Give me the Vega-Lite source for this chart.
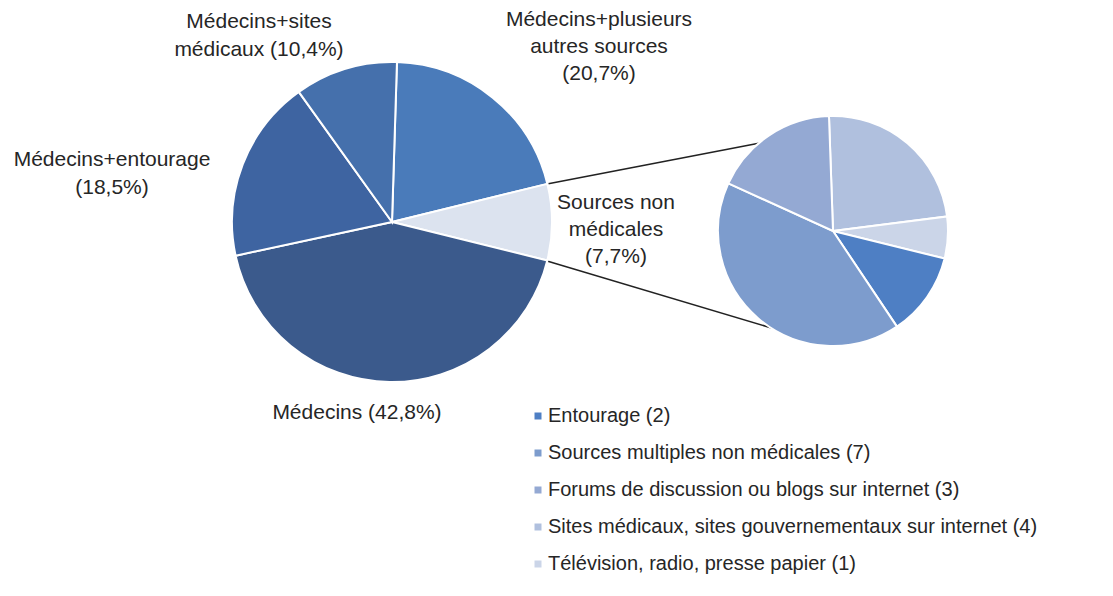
{
  "$schema": "https://vega.github.io/schema/vega-lite/v6.json",
  "width": 1113,
  "height": 596,
  "padding": 0,
  "autosize": {"type": "fit", "contains": "padding"},
  "background": "#ffffff",
  "config": {"view": {"stroke": null}, "font": "Liberation Sans"},
  "datasets": {
    "main": [
      {"category": "Médecins+plusieurs autres sources", "value": 20.7},
      {"category": "Sources non médicales", "value": 7.7},
      {"category": "Médecins", "value": 42.8},
      {"category": "Médecins+entourage", "value": 18.5},
      {"category": "Médecins+sites médicaux", "value": 10.4}
    ],
    "detail": [
      {"category": "Sites médicaux, sites gouvernementaux sur internet (4)", "value": 4},
      {"category": "Télévision, radio, presse papier (1)", "value": 1},
      {"category": "Entourage (2)", "value": 2},
      {"category": "Sources multiples non médicales (7)", "value": 7},
      {"category": "Forums de discussion ou blogs sur internet (3)", "value": 3}
    ]
  },
  "resolve": {"scale": {"theta": "independent", "color": "independent"}},
  "layer": [
    {
      "data": {"values": [{}]},
      "mark": {"type": "rule", "color": "#222222", "strokeWidth": 1.5},
      "encoding": {
        "x": {"datum": 547, "type": "quantitative", "scale": {"domain": [0, 1113], "nice": false, "zero": false}, "axis": null},
        "y": {"datum": 184, "type": "quantitative", "scale": {"domain": [0, 596], "nice": false, "zero": false, "reverse": true}, "axis": null},
        "x2": {"datum": 760},
        "y2": {"datum": 143}
      }
    },
    {
      "data": {"values": [{}]},
      "mark": {"type": "rule", "color": "#222222", "strokeWidth": 1.5},
      "encoding": {
        "x": {"datum": 547, "type": "quantitative"},
        "y": {"datum": 261, "type": "quantitative"},
        "x2": {"datum": 785},
        "y2": {"datum": 332}
      }
    },
    {
      "data": {"name": "main"},
      "transform": [{"window": [{"op": "row_number", "as": "rank"}]}],
      "mark": {"type": "arc", "outerRadius": 160, "stroke": "#ffffff", "strokeWidth": 2},
      "encoding": {
        "x": {"datum": 392, "type": "quantitative"},
        "y": {"datum": 222, "type": "quantitative"},
        "theta": {"field": "value", "type": "quantitative", "stack": true, "scale": {"range": [0.031, 6.3142]}},
        "order": {"field": "rank", "type": "quantitative"},
        "color": {
          "field": "category", "type": "nominal", "legend": null,
          "scale": {
            "domain": ["Médecins", "Médecins+entourage", "Médecins+sites médicaux", "Médecins+plusieurs autres sources", "Sources non médicales"],
            "range": ["#3b5a8c", "#3e64a1", "#4570ac", "#4a7bba", "#dce3ef"]
          }
        }
      }
    },
    {
      "data": {"name": "detail"},
      "transform": [{"window": [{"op": "row_number", "as": "rank"}]}],
      "mark": {"type": "arc", "outerRadius": 115, "stroke": "#ffffff", "strokeWidth": 2},
      "encoding": {
        "x": {"datum": 833, "type": "quantitative"},
        "y": {"datum": 231, "type": "quantitative"},
        "theta": {"field": "value", "type": "quantitative", "stack": true, "scale": {"range": [-0.035, 6.2482]}},
        "order": {"field": "rank", "type": "quantitative"},
        "color": {
          "field": "category", "type": "nominal",
          "scale": {
            "domain": ["Entourage (2)", "Sources multiples non médicales (7)", "Forums de discussion ou blogs sur internet (3)", "Sites médicaux, sites gouvernementaux sur internet (4)", "Télévision, radio, presse papier (1)"],
            "range": ["#4e7fc4", "#7d9ccd", "#94a9d3", "#b0c0de", "#cbd5e8"]
          },
          "legend": {
            "title": null, "orient": "none", "legendX": 528, "legendY": 406,
            "symbolType": "square", "symbolSize": 49, "symbolStrokeWidth": 0,
            "labelFont": "Liberation Sans", "labelFontSize": 20, "labelColor": "#262626",
            "labelOffset": 0, "rowPadding": 17, "labelLimit": 700
          }
        }
      }
    },
    {
      "data": {"values": [{}]},
      "mark": {"type": "text", "text": ["Médecins+sites", "médicaux (10,4%)"], "fontSize": 21, "lineHeight": 28, "align": "center", "baseline": "middle", "color": "#262626"},
      "encoding": {"x": {"datum": 259, "type": "quantitative"}, "y": {"datum": 22, "type": "quantitative"}}
    },
    {
      "data": {"values": [{}]},
      "mark": {"type": "text", "text": ["Médecins+plusieurs", "autres sources", "(20,7%)"], "fontSize": 21, "lineHeight": 27, "align": "center", "baseline": "middle", "color": "#262626"},
      "encoding": {"x": {"datum": 599, "type": "quantitative"}, "y": {"datum": 20, "type": "quantitative"}}
    },
    {
      "data": {"values": [{}]},
      "mark": {"type": "text", "text": ["Médecins+entourage", "(18,5%)"], "fontSize": 21, "lineHeight": 28, "align": "center", "baseline": "middle", "color": "#262626"},
      "encoding": {"x": {"datum": 112, "type": "quantitative"}, "y": {"datum": 160, "type": "quantitative"}}
    },
    {
      "data": {"values": [{}]},
      "mark": {"type": "text", "text": ["Sources non", "médicales", "(7,7%)"], "fontSize": 21, "lineHeight": 27, "align": "center", "baseline": "middle", "color": "#262626"},
      "encoding": {"x": {"datum": 616, "type": "quantitative"}, "y": {"datum": 203, "type": "quantitative"}}
    },
    {
      "data": {"values": [{}]},
      "mark": {"type": "text", "text": "Médecins (42,8%)", "fontSize": 21, "align": "center", "baseline": "middle", "color": "#262626"},
      "encoding": {"x": {"datum": 357, "type": "quantitative"}, "y": {"datum": 413, "type": "quantitative"}}
    }
  ]
}
